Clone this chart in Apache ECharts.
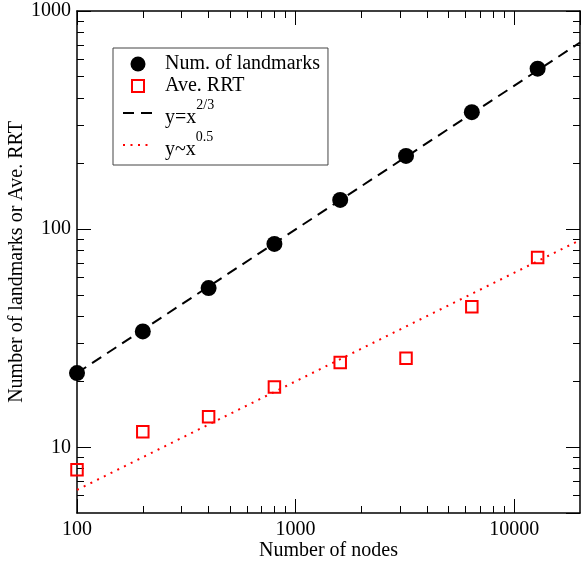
<!DOCTYPE html>
<html>
<head>
<meta charset="utf-8">
<title>landmarks</title>
<script src="https://cdn.jsdelivr.net/npm/echarts@6/dist/echarts.min.js"></script>
<style>
html, body { margin: 0; padding: 0; background: #fff; }
#main { width: 581px; height: 562px; }
</style>
</head>
<body>
<div id="main"></div>
<script>
// data
var nodes = [100, 200, 400, 800, 1600, 3200, 6400, 12800];
var landmarks = [21.9, 34.0, 53.7, 85.6, 136.2, 216.7, 343.6, 544.1];
var aveRRT = [7.9, 11.8, 13.8, 18.9, 24.5, 25.6, 44.1, 74.1];
// fitted guide lines, ends of each line
var fitX = [100, 20000];
var fitLandmarks = [21.9, 717];
var fitRRT = [6.38, 89.1];

var seriesNames = ['Num. of landmarks', 'Ave. RRT', 'y=x^(2/3)', 'y~x^0.5'];
var legendBase = ['Num. of landmarks', 'Ave. RRT', 'y=x', 'y~x'];
var legendSup = ['', '', '2/3', '0.5'];

var xMinor = [200, 300, 400, 500, 600, 700, 800, 900, 2000, 3000, 4000, 5000, 6000, 7000, 8000, 9000];
var yMinor = [6, 7, 8, 9, 20, 30, 40, 50, 60, 70, 80, 90, 200, 300, 400, 500, 600, 700, 800, 900];

function pairs(xs, ys) {
	var out = [];
	for (var i = 0; i < xs.length; i++) {
		out.push([xs[i], ys[i]]);
	}
	return out;
}

var font = 'Liberation Serif';

// one axis config, side = bottom/top/left/right, minor = only small ticks
function makeAxis(side, minor, isY) {
	var axis = {
		type: 'log',
		logBase: 10,
		position: side,
		min: isY ? 5 : 100,
		max: isY ? 1000 : 20000,
		axisLine: { show: !minor, onZero: false, lineStyle: { color: '#000', width: 1.5 } },
		axisTick: { show: true, inside: true, length: minor ? 7 : 14, lineStyle: { color: '#000', width: 1 } },
		axisLabel: { show: false },
		splitLine: { show: false },
		minorTick: { show: false }
	};
	if (minor) {
		axis.axisTick.customValues = isY ? yMinor : xMinor;
	}
	return axis;
}

var xAxes = [makeAxis('bottom', false, false), makeAxis('bottom', true, false), makeAxis('top', false, false), makeAxis('top', true, false)];
var yAxes = [makeAxis('left', false, true), makeAxis('left', true, true), makeAxis('right', false, true), makeAxis('right', true, true)];

function plainNum(v) {
	return String(Math.round(v));
}

xAxes[0].axisLabel = { show: true, margin: 7, showMaxLabel: false, color: '#000', fontFamily: font, fontSize: 20, formatter: plainNum };
xAxes[0].name = 'Number of nodes';
xAxes[0].nameLocation = 'middle';
xAxes[0].nameGap = 28;
xAxes[0].nameMoveOverlap = false;
xAxes[0].nameTextStyle = { color: '#000', fontFamily: font, fontSize: 20 };

yAxes[0].axisLabel = { show: true, margin: 6, showMinLabel: false, color: '#000', fontFamily: font, fontSize: 20, formatter: plainNum };
yAxes[0].name = 'Number of landmarks or Ave. RRT';
yAxes[0].nameLocation = 'middle';
yAxes[0].nameGap = 50;
yAxes[0].nameMoveOverlap = false;
yAxes[0].nameTextStyle = { color: '#000', fontFamily: font, fontSize: 20 };

var myChart = echarts.init(document.getElementById('main'), null, { renderer: 'canvas' });

var legendData = [];
for (var i = 0; i < seriesNames.length; i++) {
	if (i == 1) {
		// square icon, built-in rect would stretch to itemWidth
		legendData.push({ name: seriesNames[i], icon: 'path://M0,0M1.5,1.5L13.5,1.5L13.5,13.5L1.5,13.5ZM15,15' });
	} else if (i > 1) {
		// hide the little circle ECharts puts on line icons
		legendData.push({ name: seriesNames[i], itemStyle: { opacity: 0 } });
	} else {
		legendData.push({ name: seriesNames[i] });
	}
}

var option = {
	backgroundColor: '#fff',
	animation: false,
	grid: { left: 77, right: 1, top: 11, bottom: 49, containLabel: false, outerBoundsMode: 'none' },
	xAxis: xAxes,
	yAxis: yAxes,
	legend: {
		orient: 'vertical',
		left: 113,
		top: 48,
		itemGap: 2,
		itemWidth: 30,
		itemHeight: 15,
		symbolKeepAspect: true,
		padding: [6, 8, 5, 9],
		borderColor: '#444',
		borderWidth: 1,
		backgroundColor: '#fff',
		data: legendData,
		formatter: function(name) {
			var i = seriesNames.indexOf(name);
			if (legendSup[i]) {
				return '{c|' + legendBase[i] + '}{s|' + legendSup[i] + '}';
			}
			return '{b|' + legendBase[i] + '}';
		},
		textStyle: {
			color: '#000',
			fontFamily: font,
			fontSize: 20,
			rich: {
				b: { color: '#000', fontFamily: font, fontSize: 20, lineHeight: 19, padding: [0, 0, 0, 7] },
				c: { color: '#000', fontFamily: font, fontSize: 20, lineHeight: 30, verticalAlign: 'bottom', padding: [0, 0, 0, 7] },
				s: { color: '#000', fontFamily: font, fontSize: 14, lineHeight: 6, verticalAlign: 'top' }
			}
		}
	},
	series: [{
		name: seriesNames[0],
		type: 'scatter',
		xAxisIndex: 0,
		yAxisIndex: 0,
		symbol: 'circle',
		symbolSize: 16,
		clip: false,
		z: 5,
		itemStyle: { color: '#000', opacity: 1 },
		data: pairs(nodes, landmarks)
	}, {
		name: seriesNames[1],
		type: 'scatter',
		xAxisIndex: 0,
		yAxisIndex: 0,
		symbol: 'rect',
		symbolSize: 11.5,
		clip: false,
		z: 5,
		itemStyle: { color: 'transparent', borderColor: '#ff0000', borderWidth: 2, opacity: 1 },
		data: pairs(nodes, aveRRT)
	}, {
		name: seriesNames[2],
		type: 'line',
		xAxisIndex: 0,
		yAxisIndex: 0,
		symbol: 'none',
		itemStyle: { color: '#000' },
		lineStyle: { color: '#000', width: 2, type: [11, 7] },
		data: pairs(fitX, fitLandmarks)
	}, {
		name: seriesNames[3],
		type: 'line',
		xAxisIndex: 0,
		yAxisIndex: 0,
		symbol: 'none',
		itemStyle: { color: '#ff0000' },
		lineStyle: { color: '#ff0000', width: 2, type: [2, 5.5] },
		data: pairs(fitX, fitRRT)
	}]
};

myChart.setOption(option);
</script>
</body>
</html>
